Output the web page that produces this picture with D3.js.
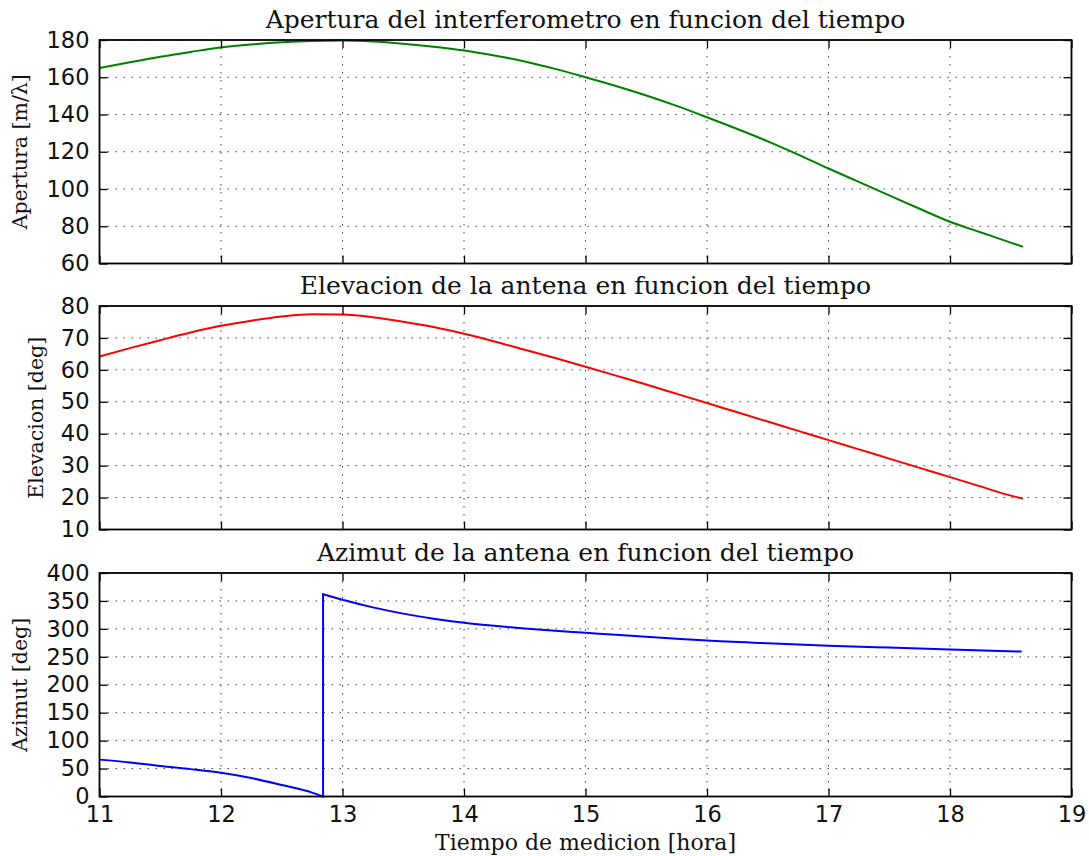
<!DOCTYPE html>
<html>
<head>
<meta charset="utf-8">
<script src="https://cdn.jsdelivr.net/npm/d3@7"></script>
<style>
  body { margin: 0; background: #fff; }
  svg { display: block; }
</style>
</head>
<body>
<svg id="chart"></svg>
<script>
// hours shared by aperture and elevation
const hora = [11.0, 11.25, 11.5, 11.75, 12.0, 12.25, 12.5, 12.75, 13.0, 13.25, 13.5, 13.75,
  14.0, 14.25, 14.5, 14.75, 15.0, 15.25, 15.5, 15.75, 16.0, 16.25, 16.5, 16.75,
  17.0, 17.25, 17.5, 17.75, 18.0, 18.25, 18.5, 18.6];
const apertura = [165, 168, 171, 173.6, 176, 177.6, 178.8, 179.5, 179.7, 179.2, 178, 176.4,
  174.4, 171.7, 168.5, 164.5, 160, 155.3, 150.2, 144.6, 138.5, 132.2, 125.6, 118.5,
  111, 103.8, 96.6, 89.4, 82.4, 76.8, 71.2, 69];
const elevacion = [64.2, 66.8, 69.3, 71.7, 73.8, 75.4, 76.7, 77.4, 77.3, 76.5, 75.1, 73.4,
  71.3, 68.9, 66.3, 63.7, 61.0, 58.2, 55.4, 52.5, 49.6, 46.7, 43.8, 40.9,
  38.0, 35.1, 32.2, 29.3, 26.4, 23.5, 20.6, 19.7];

// azimuth, before and after the wrap at 360 deg
const horaAzimutA = [11.0, 11.25, 11.5, 11.75, 12.0, 12.25, 12.5, 12.75, 12.84];
const azimutA = [66, 61, 54.5, 49, 42.4, 33, 20.5, 7, 0];
const horaAzimutB = [12.84, 13.0, 13.25, 13.5, 13.75, 14.0, 14.25, 14.5, 14.75, 15.0,
  15.25, 15.5, 15.75, 16.0, 16.5, 17.0, 17.5, 18.0, 18.59];
const azimutB = [362, 352, 338.5, 327.3, 318.3, 311, 305.4, 300.8, 296.8, 293.1,
  289.3, 285.7, 282.3, 279.1, 274.3, 270, 266.5, 263.2, 259.5];

const xTicks = [11, 12, 13, 14, 15, 16, 17, 18, 19];
const aperturaTicks = [60, 80, 100, 120, 140, 160, 180];
const elevacionTicks = [10, 20, 30, 40, 50, 60, 70, 80];
const azimutTicks = [0, 50, 100, 150, 200, 250, 300, 350, 400];

const W = 1089, H = 856;
const left = 99.5, right = 1071.5, panelH = 223.5;
const serif = "'DejaVu Serif', serif", sans = "'DejaVu Sans', sans-serif";

const svg = d3.select("#chart").attr("width", W).attr("height", H);

const x = d3.scaleLinear().domain([11, 19]).range([left, right]);

const panels = [
  {top: 40, domain: [60, 180], ticks: aperturaTicks, color: "#008000",
   title: "Apertura del interferometro en funcion del tiempo", label: "Apertura [m/\u03bb]", labelX: 27,
   series: [hora.map((h, i) => [h, apertura[i]])]},
  {top: 306, domain: [10, 80], ticks: elevacionTicks, color: "#ff0000",
   title: "Elevacion de la antena en funcion del tiempo", label: "Elevacion [deg]", labelX: 43,
   series: [hora.map((h, i) => [h, elevacion[i]])]},
  {top: 573, domain: [0, 400], ticks: azimutTicks, color: "#0000ff",
   title: "Azimut de la antena en funcion del tiempo", label: "Azimut [deg]", labelX: 27,
   series: [horaAzimutA.map((h, i) => [h, azimutA[i]]), horaAzimutB.map((h, i) => [h, azimutB[i]])]}
];

panels.forEach((p, k) => {
  const y = d3.scaleLinear().domain(p.domain).range([p.top + panelH, p.top]);
  const g = svg.append("g");
  const bottom = p.top + panelH;

  // grid
  g.append("g").selectAll("line").data(xTicks.slice(1, -1)).join("line")
    .attr("x1", d => x(d)).attr("x2", d => x(d))
    .attr("y1", p.top).attr("y2", bottom)
    .attr("stroke", "#444").attr("stroke-width", 1).attr("stroke-dasharray", "1.5,6.5");
  g.append("g").selectAll("line").data(p.ticks.slice(1, -1)).join("line")
    .attr("y1", d => y(d)).attr("y2", d => y(d))
    .attr("x1", left).attr("x2", right)
    .attr("stroke", "#444").attr("stroke-width", 1).attr("stroke-dasharray", "1.5,6.5");

  // line (azimuth pieces joined into one path so the wrap is a straight jump)
  const line = d3.line().x(d => x(d[0])).y(d => y(d[1])).curve(d3.curveMonotoneX);
  const dStr = p.series.map((s, i) => i === 0 ? line(s) : line(s).replace(/^M/, "L")).join("");
  g.append("path").attr("d", dStr).attr("fill", "none")
    .attr("stroke", p.color).attr("stroke-width", 2).attr("stroke-linejoin", "miter");

  // inward ticks on all four sides
  const tl = 8;
  g.append("g").call(d3.axisLeft(y).tickValues(p.ticks).tickSize(-tl).tickPadding(10).tickFormat(d3.format("d")))
    .attr("transform", `translate(${left},0)`);
  g.append("g").call(d3.axisRight(y).tickValues(p.ticks).tickSize(-tl).tickFormat(""))
    .attr("transform", `translate(${right},0)`);
  g.append("g").call(d3.axisTop(x).tickValues(xTicks).tickSize(-tl).tickFormat(""))
    .attr("transform", `translate(0,${p.top})`);
  g.append("g").call(d3.axisBottom(x).tickValues(xTicks).tickSize(-tl).tickPadding(10)
      .tickFormat(k === 2 ? d3.format("d") : ""))
    .attr("transform", `translate(0,${bottom})`);

  g.selectAll(".domain").remove();
  g.selectAll(".tick line").attr("stroke", "#000").attr("stroke-width", 1.3);
  g.selectAll(".tick text").attr("font-family", sans).attr("font-size", 22.5).attr("fill", "#111");

  // frame
  g.append("rect").attr("x", left).attr("y", p.top).attr("width", right - left).attr("height", panelH)
    .attr("fill", "none").attr("stroke", "#000").attr("stroke-width", 1.8);

  g.append("text").attr("x", (left + right) / 2).attr("y", p.top - 12)
    .attr("text-anchor", "middle").attr("font-family", serif).attr("font-size", 25).attr("fill", "#111")
    .text(p.title);

  g.append("text")
    .attr("transform", `translate(${p.labelX},${(p.top + bottom) / 2}) rotate(-90)`)
    .attr("text-anchor", "middle").attr("font-family", serif).attr("font-size", 20.5).attr("fill", "#111")
    .text(p.label);
});

svg.append("text").attr("x", (left + right) / 2).attr("y", 850)
  .attr("text-anchor", "middle").attr("font-family", serif).attr("font-size", 22).attr("fill", "#111")
  .text("Tiempo de medicion [hora]");
</script>
</body>
</html>
